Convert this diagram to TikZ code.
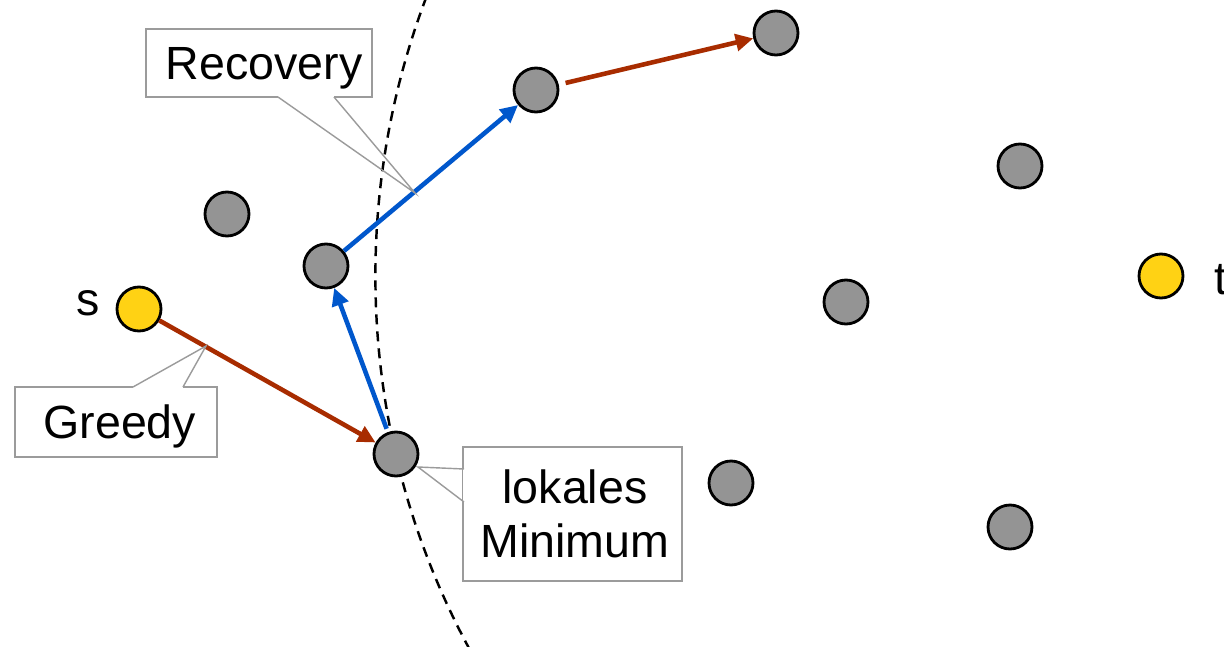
\documentclass[tikz,border=0pt]{standalone}
\usepackage{fontspec}
\setmainfont{Liberation Sans}
\usetikzlibrary{arrows.meta}
\definecolor{nodegray}{RGB}{148,148,148}
\definecolor{tyellow}{RGB}{255,210,20}
\definecolor{greedyred}{RGB}{168,44,0}
\definecolor{recblue}{RGB}{0,87,204}
\definecolor{callgray}{RGB}{155,155,155}
\begin{document}
\begin{tikzpicture}[x=0.02cm,y=-0.02cm,
  vertex/.style={circle,draw=black,line width=1.6pt,fill=nodegray,minimum size=0.88cm,inner sep=0pt},
  endpoint/.style={vertex,fill=tyellow},
  hop/.style={line width=2.6pt,-{Triangle[length=10pt,width=9.5pt]}},
  callout/.style={draw=callgray,line width=0.8pt,fill=white,inner sep=0pt,
    font=\fontsize{26.5}{30.5}\selectfont,align=center},
  pointer/.style={draw=callgray,line width=0.8pt},
  lbl/.style={font=\fontsize{26.5}{30.5}\selectfont,inner sep=0pt}]
\clip (0,0) rectangle (1224,646);
\fill[white] (0,0) rectangle (1224,646);

% target and the search radius around it
\coordinate (tc) at (1161,276);
\draw[dashed,line width=1.4pt,dash pattern=on 5.7pt off 4pt] (tc) circle [radius=785.6];

% vertices
\node[endpoint] (s) at (139,309) {};
\node[endpoint] (t) at (1161,276) {};
\node[vertex] (a) at (396,454) {};
\node[vertex] (b) at (326,266) {};
\node[vertex] (c) at (536,90) {};
\node[vertex] (d) at (776,33) {};
\node[vertex] (e) at (227,214) {};
\node[vertex] (f) at (1020,166) {};
\node[vertex] (g) at (846,302) {};
\node[vertex] (h) at (731,483) {};
\node[vertex] (i) at (1010,527) {};

\node[lbl] (slbl) at (88,303) {s};
\node[lbl,anchor=west] (tlbl) at (1214,280) {t};

% route: greedy, recovery, greedy again
\draw[hop,greedyred] (s) -- (a);
\draw[hop,recblue,shorten <=2pt] (a) -- (b);
\draw[hop,recblue] (b) -- (c);
\draw[hop,greedyred,shorten <=4pt] (c) -- (d);

% callouts
\node[callout,text depth=0pt,minimum width=4.52cm,minimum height=1.36cm] (rec) at (259,63) {\hspace*{0.2cm}Recovery};
\coordinate (recA) at (278,97);
\coordinate (recB) at (334,97);
\coordinate (recTip) at (415,193);
\draw[white,line width=1.6pt] (recA) -- (recB);
\draw[pointer] (recA) -- (recTip) -- (recB);

\node[callout,text depth=0pt,minimum width=4.04cm,minimum height=1.40cm] (gre) at (116,422) {\hspace*{0.15cm}Greedy};
\coordinate (greA) at (133,387);
\coordinate (greB) at (183,387);
\coordinate (greTip) at (206,346);
\draw[white,line width=1.6pt] (greA) -- (greB);
\draw[pointer] (greA) -- (greTip) -- (greB);

\node[callout,minimum width=4.38cm,minimum height=2.68cm] (lok) at (572.5,514) {\hspace*{0.1cm}lokales\\\hspace*{0.1cm}Minimum};
\coordinate (lokA) at (464,469);
\coordinate (lokB) at (464,502);
\coordinate (lokTip) at (418,467);
\draw[white,line width=1.6pt] (lokA) -- (lokB);
\draw[pointer] (lokA) -- (lokTip) -- (lokB);
\end{tikzpicture}
\end{document}
